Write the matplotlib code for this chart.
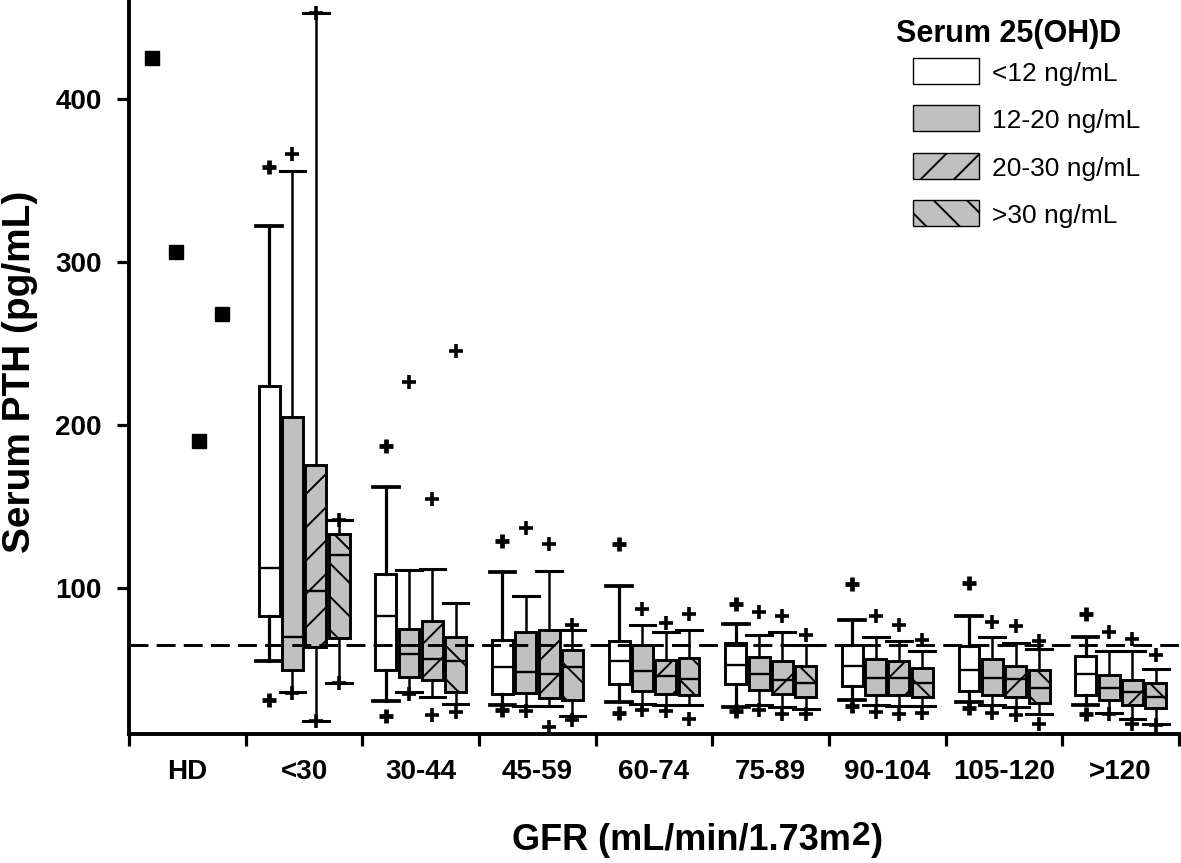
import matplotlib
matplotlib.use('Agg')
import matplotlib.pyplot as plt
from matplotlib.patches import Patch

plt.rcParams['font.family'] = ['Liberation Sans', 'DejaVu Sans']
plt.rcParams['hatch.linewidth'] = 1.4

# ---------------- data ----------------
groups = ['HD', '<30', '30-44', '45-59', '60-74', '75-89', '90-104', '105-120', '>120']
series = ['<12 ng/mL', '12-20 ng/mL', '20-30 ng/mL', '>30 ng/mL']

# HD: single values per vitamin D category
hd_values = [425, 306, 190, 268]

# box statistics for GFR groups <30 ... >120 (8 groups), one list per series
lt12_whislo = [55, 30.9, 28.5, 30.1, 27, 31.5, 30.1, 28]
lt12_q1 = [83, 49.5, 35, 41, 41, 40, 36.6, 34.6]
lt12_med = [112.6, 82.6, 51.3, 55, 52.6, 52, 50, 47.5]
lt12_q3 = [224, 108.8, 68.3, 67.3, 66.3, 65.2, 64.6, 58.5]
lt12_whishi = [322, 161.7, 109.6, 101.4, 78, 80.6, 83, 70]
lt12_out_hi = [358.5, 187.4, 129, 127, 90.2, 102.5, 103.4, 84.2]
lt12_out_lo = [31.5, 21.3, 25, 23.4, 24.8, 27.4, 26.4, 22.9]

s1220_whislo = [36, 36, 27.4, 28.9, 28.5, 28, 28, 23.4]
s1220_q1 = [50, 45.2, 35.6, 37, 37.2, 34.6, 34.6, 31.1]
s1220_med = [70, 59.5, 48.5, 48.9, 47.3, 44.8, 44.8, 39]
s1220_q3 = [205, 75.2, 72.8, 64.8, 57.5, 56.5, 56.5, 46.8]
s1220_whishi = [356, 111.2, 95.3, 77.3, 71, 70, 69.7, 61.7]
s1220_out_hi = [366, 226.7, 137, 87.1, 85.3, 82.6, 79.5, 72.8]
s1220_out_lo = [35.5, 35, 24.8, 25, 25, 24, 23.4, 22.5]

s2030_whislo = [18.2, 32.9, 27.4, 28.5, 27, 27.8, 27, 19.9]
s2030_q1 = [63.8, 43.4, 32.6, 35, 35, 34.2, 33.5, 28]
s2030_med = [98.3, 56.5, 47.3, 45.8, 43.8, 44.8, 44.2, 36]
s2030_q3 = [175.6, 80, 74.4, 56, 55.4, 55, 52.4, 43.8]
s2030_whishi = [453, 111.8, 110.2, 72.8, 72.8, 67.7, 66.6, 61.7]
s2030_out_hi = [453, 154.6, 127, 78.5, 83, 77.1, 76.5, 68.7]
s2030_out_lo = [18.2, 21.9, 14.5, 24.8, 22.7, 22.9, 21.9, 16.6]

gt30_whislo = [41.8, 28.9, 21.3, 28, 26, 27.4, 22.9, 16.8]
gt30_q1 = [69.3, 36, 31.5, 34.6, 33.5, 33.5, 29.5, 26.4]
gt30_med = [120, 55, 51.3, 44.2, 41.8, 41.8, 39, 33.5]
gt30_q3 = [133, 70.3, 62.2, 57.1, 52, 51, 49.9, 41.8]
gt30_whishi = [141.9, 91, 74, 74.4, 65.2, 61.6, 62.8, 50.3]
gt30_out_hi = [141.9, 245.7, 77.5, 84, 71, 68.3, 67.7, 59.1]
gt30_out_lo = [41.8, 24.3, 19.3, 19.9, 22.7, 23.4, 16.6, 16]

reference_pth = 65

y_ticks = [100, 200, 300, 400]
x_label = 'GFR (mL/min/1.73m'
y_label = 'Serum PTH (pg/mL)'
legend_title = 'Serum 25(OH)D'

series_stats = [
    (lt12_whislo, lt12_q1, lt12_med, lt12_q3, lt12_whishi, lt12_out_hi, lt12_out_lo),
    (s1220_whislo, s1220_q1, s1220_med, s1220_q3, s1220_whishi, s1220_out_hi, s1220_out_lo),
    (s2030_whislo, s2030_q1, s2030_med, s2030_q3, s2030_whishi, s2030_out_hi, s2030_out_lo),
    (gt30_whislo, gt30_q1, gt30_med, gt30_q3, gt30_whishi, gt30_out_hi, gt30_out_lo),
]

# ---------------- styles ----------------
offsets = [0.2, 0.4, 0.6, 0.8]
faces = ['white', '#c0c0c0', '#c0c0c0', '#c0c0c0']
hatches = [None, None, '/', '\\']
line_w = [2.3, 1.8, 1.8, 1.8]
flier_w = [3.4, 2.6, 2.6, 2.6]

W, H = 1181, 863
fig = plt.figure(figsize=(W / 100, H / 100), dpi=100)
ax = fig.add_axes([129 / W, 1 - 734 / H, 1050 / W, 734 / H])

for s, (wlo, q1, med, q3, whi, ohi, olo) in enumerate(series_stats):
    stats = []
    for g in range(len(med)):
        stats.append(dict(whislo=wlo[g], q1=q1[g], med=med[g], q3=q3[g],
                          whishi=whi[g], fliers=[ohi[g], olo[g]]))
    positions = [g + 1 + offsets[s] for g in range(len(med))]
    ax.bxp(stats, positions=positions, widths=0.18, capwidths=0.22,
           patch_artist=True, showfliers=True, manage_ticks=False,
           boxprops=dict(facecolor=faces[s], edgecolor='black',
                         linewidth=2.1, hatch=hatches[s]),
           medianprops=dict(color='black', linewidth=1.7),
           whiskerprops=dict(color='black', linewidth=line_w[s]),
           capprops=dict(color='black', linewidth=line_w[s] + 0.4),
           flierprops=dict(marker='+', markersize=9.5, markeredgewidth=flier_w[s],
                           markeredgecolor='black', linestyle='none'))

# HD points
ax.plot([offsets[i] for i in range(len(hd_values))], hd_values, linestyle='none',
        marker='s', markersize=10, color='black', zorder=5)

# reference line
ax.axhline(reference_pth, color='black', linewidth=2.1, linestyle=(0, (6.5, 2.8)), zorder=6)

ax.set_xlim(0, len(groups))
ax.set_ylim(10.5, 460.7)

ax.spines['top'].set_visible(False)
ax.spines['right'].set_visible(False)
ax.spines['left'].set_linewidth(2.8)
ax.spines['bottom'].set_linewidth(2.8)

ax.set_xticks(range(len(groups) + 1))
ax.set_xticklabels([])
ax.set_xticks([i + 0.5 for i in range(len(groups))], minor=True)
ax.set_xticklabels(groups, minor=True, fontsize=20, fontweight='bold')
ax.tick_params(axis='x', which='major', direction='out', length=8.6, width=2.3)
ax.tick_params(axis='x', which='minor', length=0, pad=18)

ax.set_yticks(y_ticks)
ax.set_yticklabels([str(v) for v in y_ticks], fontsize=20, fontweight='bold')
ax.tick_params(axis='y', direction='out', length=8.6, width=2.3, pad=11)

# axis labels
fig.text(20 / W, 1 - 372 / H, y_label, rotation=90, ha='center', va='center',
         fontsize=28, fontweight='bold')
t1 = fig.text(512 / W, 1 - 858 / H, x_label, ha='left', va='bottom',
              fontsize=26, fontweight='bold')
t2 = ax.annotate('2', xy=(1, 1), xycoords=t1, xytext=(0.5, 1.5), textcoords='offset points',
                 ha='left', va='top', fontsize=24, fontweight='bold', annotation_clip=False)
ax.annotate(')', xy=(1, 0), xycoords=(t2, t1), xytext=(0.5, 0), textcoords='offset points',
            ha='left', va='bottom', fontsize=26, fontweight='bold', annotation_clip=False)

# legend
handles = [Patch(facecolor=faces[i], edgecolor='black', linewidth=1.0, hatch=hatches[i])
           for i in range(len(series))]
fig.text(896 / W, 1 - 42 / H, legend_title, ha='left', va='baseline',
         fontsize=22, fontweight='bold')
leg = fig.legend(handles, series, loc='upper left',
                 bbox_to_anchor=(913 / W, 1 - 60 / H), bbox_transform=fig.transFigure,
                 frameon=False, fontsize=19, handlelength=2.5, handleheight=1.0,
                 handletextpad=0.5, labelspacing=0.82, borderpad=0, borderaxespad=0)
for p in leg.get_patches():
    p.set_height(26 * 0.72)

fig.savefig('out.png', dpi=100)
